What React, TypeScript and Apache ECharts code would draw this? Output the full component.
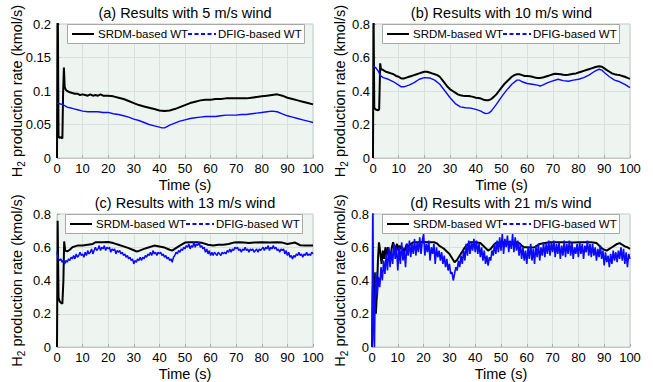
import React, { useEffect, useRef } from "react";
import * as echarts from "echarts";

const FONT = '"Liberation Sans", Arial, Helvetica, sans-serif';

const panelTitles = [
  "(a) Results with 5 m/s wind",
  "(b) Results with 10 m/s wind",
  "(c) Results with 13 m/s wind",
  "(d) Results with 21 m/s wind",
];
const seriesNames = ["SRDM-based WT", "DFIG-based WT"];
const xTicks = { min: 0, max: 100, interval: 10 };
const yMax = [0.2, 0.8, 0.8, 0.8];
const yInterval = [0.05, 0.2, 0.2, 0.2];

// (a) 5 m/s
const srdm5 = [
  [0, 0], [0.25, 0.26], [0.6, 0.032], [1.0, 0.03], [1.6, 0.031], [2.1, 0.029], [2.4, 0.1], [2.7, 0.135],
  [3.0, 0.106], [3.4, 0.102], [4, 0.1], [5, 0.098], [6, 0.097], [7, 0.096], [8, 0.096], [9, 0.094],
  [10, 0.095], [11, 0.094], [12, 0.093], [13, 0.095], [14, 0.093], [15, 0.094], [16, 0.093], [17, 0.095],
  [18, 0.093], [19, 0.093], [20, 0.093], [22, 0.092], [24, 0.09], [26, 0.088], [28, 0.085], [30, 0.082],
  [32, 0.079], [34, 0.077], [36, 0.075], [38, 0.073], [40, 0.071], [42, 0.07], [44, 0.071], [46, 0.073],
  [48, 0.076], [50, 0.079], [52, 0.082], [54, 0.084], [56, 0.086], [58, 0.087], [60, 0.087], [62, 0.088],
  [64, 0.088], [66, 0.089], [68, 0.089], [70, 0.089], [72, 0.089], [74, 0.089], [76, 0.09], [78, 0.091],
  [80, 0.092], [82, 0.093], [84, 0.094], [86, 0.095], [88, 0.093], [90, 0.09], [92, 0.088], [94, 0.086],
  [96, 0.084], [98, 0.082], [100, 0.08],
];
const dfig5 = [
  [0, 0.082], [1, 0.081], [2, 0.08], [3, 0.078], [4, 0.076], [5, 0.075], [6, 0.074], [7, 0.073], [8, 0.072],
  [9, 0.071], [10, 0.07], [12, 0.069], [14, 0.069], [16, 0.069], [18, 0.068], [20, 0.068], [22, 0.066],
  [24, 0.065], [26, 0.063], [28, 0.061], [30, 0.058], [32, 0.056], [34, 0.053], [36, 0.05], [38, 0.048],
  [40, 0.046], [41, 0.045], [42, 0.045], [43, 0.047], [44, 0.049], [46, 0.052], [48, 0.055], [50, 0.057],
  [52, 0.059], [54, 0.06], [56, 0.061], [58, 0.062], [60, 0.062], [62, 0.062], [64, 0.063], [66, 0.064],
  [68, 0.064], [70, 0.064], [72, 0.065], [74, 0.065], [76, 0.066], [78, 0.067], [80, 0.068], [82, 0.069],
  [84, 0.07], [86, 0.069], [88, 0.066], [90, 0.063], [92, 0.061], [94, 0.059], [96, 0.057], [98, 0.055],
  [100, 0.053],
];

// (b) 10 m/s
const srdm10 = [
  [0, 0], [0.2, 0.9], [0.5, 0.3], [1, 0.29], [2, 0.285], [2.4, 0.29], [2.8, 0.565], [3.1, 0.53], [4, 0.525],
  [5, 0.515], [6, 0.51], [7, 0.505], [8, 0.5], [9, 0.49], [10, 0.485], [11, 0.475], [12, 0.475], [13, 0.48],
  [14, 0.485], [15, 0.49], [16, 0.495], [17, 0.5], [18, 0.505], [19, 0.51], [20, 0.515], [21, 0.515],
  [22, 0.51], [23, 0.505], [24, 0.5], [25, 0.495], [26, 0.485], [27, 0.465], [28, 0.445], [29, 0.425],
  [30, 0.41], [31, 0.4], [32, 0.39], [33, 0.38], [34, 0.375], [35, 0.372], [36, 0.37], [37, 0.37],
  [38, 0.368], [39, 0.365], [40, 0.36], [41, 0.358], [42, 0.355], [43, 0.348], [44, 0.345], [45, 0.345],
  [46, 0.352], [47, 0.365], [48, 0.38], [49, 0.4], [50, 0.42], [51, 0.44], [52, 0.455], [53, 0.47],
  [54, 0.485], [55, 0.495], [56, 0.5], [57, 0.5], [58, 0.495], [59, 0.49], [60, 0.49], [61, 0.488],
  [62, 0.485], [63, 0.48], [64, 0.478], [65, 0.478], [66, 0.48], [67, 0.485], [68, 0.49], [69, 0.495],
  [70, 0.5], [71, 0.503], [72, 0.502], [73, 0.5], [74, 0.497], [75, 0.495], [76, 0.497], [77, 0.5],
  [78, 0.503], [79, 0.505], [80, 0.51], [81, 0.515], [82, 0.52], [83, 0.525], [84, 0.53], [85, 0.535],
  [86, 0.54], [87, 0.545], [88, 0.548], [89, 0.545], [90, 0.535], [91, 0.525], [92, 0.515], [93, 0.505],
  [94, 0.5], [95, 0.497], [96, 0.495], [97, 0.49], [98, 0.485], [99, 0.478], [100, 0.472],
];
const dfig10 = [
  [0, 0.55], [1, 0.54], [2, 0.52], [3, 0.49], [4, 0.48], [6, 0.47], [8, 0.455], [10, 0.435], [11, 0.425],
  [12, 0.425], [14, 0.435], [16, 0.45], [18, 0.47], [20, 0.48], [22, 0.478], [24, 0.465], [26, 0.44],
  [28, 0.4], [30, 0.36], [32, 0.325], [34, 0.305], [36, 0.3], [38, 0.298], [40, 0.29], [42, 0.28],
  [43, 0.27], [44, 0.265], [45, 0.268], [46, 0.28], [48, 0.32], [50, 0.365], [52, 0.405], [54, 0.44],
  [56, 0.465], [57, 0.465], [58, 0.455], [60, 0.445], [62, 0.44], [64, 0.435], [65, 0.43], [66, 0.435],
  [68, 0.45], [70, 0.46], [72, 0.47], [74, 0.462], [76, 0.458], [78, 0.465], [80, 0.47], [82, 0.48],
  [84, 0.495], [86, 0.515], [88, 0.53], [89, 0.525], [90, 0.51], [92, 0.485], [94, 0.465], [96, 0.455],
  [98, 0.44], [100, 0.42],
];

// (c) 13 m/s
const srdm13 = [
  [0, 0], [0.25, 0.76], [0.6, 0.3], [1, 0.275], [1.6, 0.265], [2.1, 0.26], [2.5, 0.4], [2.8, 0.635],
  [3.2, 0.58], [4, 0.575], [5, 0.585], [6, 0.6], [7, 0.605], [8, 0.61], [10, 0.61], [12, 0.615], [14, 0.62],
  [15, 0.63], [18, 0.63], [20, 0.632], [22, 0.625], [24, 0.615], [26, 0.605], [28, 0.595], [30, 0.582],
  [31, 0.575], [32, 0.578], [34, 0.59], [36, 0.6], [38, 0.61], [40, 0.605], [42, 0.598], [44, 0.585],
  [45, 0.58], [46, 0.59], [48, 0.61], [50, 0.628], [52, 0.63], [55, 0.63], [57, 0.625], [59, 0.615],
  [61, 0.61], [63, 0.615], [65, 0.615], [67, 0.62], [69, 0.628], [71, 0.63], [73, 0.628], [75, 0.625],
  [77, 0.628], [80, 0.63], [83, 0.628], [86, 0.63], [88, 0.628], [90, 0.62], [92, 0.625], [93, 0.628],
  [95, 0.612], [97, 0.61], [100, 0.61],
];
// sampled every 0.5 s from t = 0
const dfig13Step = 0.5;
const dfig13 = [
  0.57, 0.53, 0.52, 0.53, 0.51, 0.52, 0.50, 0.52, 0.51, 0.53,
  0.52, 0.54, 0.53, 0.55, 0.53, 0.56, 0.54, 0.55, 0.57, 0.55,
  0.56, 0.54, 0.57, 0.55, 0.58, 0.56, 0.57, 0.59, 0.56, 0.58,
  0.60, 0.58, 0.59, 0.61, 0.58, 0.60, 0.59, 0.61, 0.58, 0.60,
  0.59, 0.60, 0.57, 0.59, 0.58, 0.59, 0.56, 0.58, 0.57, 0.58,
  0.56, 0.57, 0.55, 0.56, 0.54, 0.55, 0.53, 0.54, 0.52, 0.53,
  0.50, 0.52, 0.51, 0.53, 0.52, 0.54, 0.52, 0.54, 0.53, 0.55,
  0.54, 0.56, 0.55, 0.57, 0.55, 0.58, 0.56, 0.57, 0.55, 0.57,
  0.56, 0.57, 0.55, 0.56, 0.54, 0.55, 0.53, 0.54, 0.52, 0.53,
  0.51, 0.54, 0.55, 0.57, 0.56, 0.58, 0.57, 0.59, 0.58, 0.60,
  0.59, 0.61, 0.60, 0.62, 0.59, 0.61, 0.60, 0.63, 0.60, 0.62,
  0.61, 0.63, 0.60, 0.61, 0.59, 0.60, 0.57, 0.59, 0.56, 0.58,
  0.55, 0.57, 0.55, 0.57, 0.56, 0.55, 0.57, 0.56, 0.55, 0.57,
  0.56, 0.57, 0.56, 0.58, 0.57, 0.59, 0.57, 0.59, 0.58, 0.60,
  0.59, 0.60, 0.58, 0.59, 0.57, 0.59, 0.58, 0.60, 0.58, 0.59,
  0.57, 0.59, 0.58, 0.59, 0.57, 0.58, 0.59, 0.57, 0.59, 0.58,
  0.59, 0.60, 0.58, 0.60, 0.59, 0.61, 0.58, 0.60, 0.59, 0.61,
  0.59, 0.60, 0.58, 0.59, 0.57, 0.59, 0.58, 0.59, 0.56, 0.58,
  0.55, 0.57, 0.54, 0.55, 0.53, 0.55, 0.54, 0.56, 0.55, 0.57,
  0.55, 0.56, 0.54, 0.56, 0.55, 0.57, 0.55, 0.56, 0.55, 0.57, 0.56,
];

// (d) 21 m/s
const srdm21 = [
  [0, 0], [0.3, 0.35], [0.7, 0.45], [1.1, 0.3], [1.5, 0.2], [1.9, 0.32], [2.3, 0.52], [2.7, 0.63],
  [3.2, 0.57], [3.7, 0.5], [4.2, 0.58], [4.7, 0.53], [5.2, 0.6], [5.7, 0.55], [6.2, 0.6], [6.7, 0.57],
  [7.2, 0.54], [7.7, 0.6], [8.2, 0.63], [8.7, 0.58], [9.2, 0.6], [9.7, 0.62], [10.2, 0.58], [10.7, 0.61],
  [11.2, 0.59], [11.7, 0.6], [12.5, 0.57], [13, 0.6], [13.5, 0.62], [14, 0.6], [15, 0.62], [16, 0.63],
  [18, 0.63], [20, 0.632], [22, 0.63], [24, 0.63], [25, 0.625], [26, 0.61], [27, 0.6], [28, 0.59],
  [29, 0.575], [30, 0.56], [31, 0.535], [32, 0.51], [33, 0.525], [34, 0.55], [35, 0.575], [36, 0.6],
  [37, 0.615], [38, 0.63], [40, 0.63], [42, 0.625], [43, 0.61], [44, 0.595], [45, 0.58], [46, 0.59],
  [47, 0.61], [48, 0.625], [50, 0.63], [52, 0.632], [54, 0.63], [56, 0.63], [57, 0.625], [58, 0.61],
  [59, 0.6], [60, 0.6], [62, 0.598], [63, 0.6], [64, 0.61], [65, 0.62], [67, 0.625], [69, 0.63],
  [72, 0.63], [75, 0.63], [78, 0.628], [80, 0.63], [83, 0.63], [85, 0.63], [87, 0.625], [88, 0.61],
  [89, 0.595], [90, 0.585], [91, 0.58], [92, 0.59], [93, 0.6], [94, 0.61], [95, 0.62], [96, 0.625],
  [97, 0.615], [98, 0.605], [99, 0.6], [100, 0.59],
];
const dfig21Head = [
  [0, 0], [0.2, 0.5], [0.35, 0.85], [0.55, 0.3], [0.75, 0.05], [0.95, 0], [1.15, 0.25],
];
// sampled every 0.5 s from t = 1.5
const dfig21Start = 1.5;
const dfig21Step = 0.5;
const dfig21 = [
  0.45, 0.30, 0.42, 0.36, 0.48, 0.40, 0.52,
  0.44, 0.56, 0.46, 0.60, 0.48, 0.58, 0.50, 0.62, 0.53, 0.60,
  0.46, 0.60, 0.50, 0.63, 0.52, 0.58, 0.48, 0.62, 0.55, 0.64,
  0.54, 0.62, 0.56, 0.65, 0.55, 0.63, 0.57, 0.66, 0.56, 0.64,
  0.68, 0.55, 0.62, 0.57, 0.64, 0.52, 0.60, 0.56, 0.62, 0.50,
  0.60, 0.54, 0.58, 0.52, 0.57, 0.50, 0.55, 0.48, 0.53, 0.46,
  0.50, 0.44, 0.45, 0.40, 0.44, 0.48, 0.46, 0.52, 0.48, 0.55,
  0.50, 0.58, 0.52, 0.62, 0.55, 0.64, 0.56, 0.63, 0.58, 0.65,
  0.57, 0.64, 0.56, 0.62, 0.54, 0.60, 0.52, 0.58, 0.50, 0.55,
  0.49, 0.54, 0.52, 0.58, 0.55, 0.62, 0.56, 0.64, 0.57, 0.66,
  0.58, 0.68, 0.56, 0.65, 0.60, 0.67, 0.57, 0.64, 0.59, 0.68,
  0.57, 0.66, 0.58, 0.64, 0.55, 0.62, 0.53, 0.60, 0.52, 0.58,
  0.50, 0.60, 0.53, 0.62, 0.52, 0.59, 0.50, 0.61, 0.54, 0.62,
  0.52, 0.60, 0.55, 0.63, 0.54, 0.62, 0.56, 0.64, 0.55, 0.63,
  0.57, 0.64, 0.54, 0.62, 0.56, 0.63, 0.53, 0.61, 0.55, 0.64,
  0.54, 0.62, 0.56, 0.64, 0.55, 0.63, 0.53, 0.60, 0.56, 0.62,
  0.54, 0.63, 0.56, 0.62, 0.53, 0.61, 0.57, 0.64, 0.55, 0.62,
  0.54, 0.62, 0.55, 0.60, 0.52, 0.59, 0.54, 0.61, 0.53, 0.58,
  0.49, 0.57, 0.51, 0.55, 0.48, 0.56, 0.50, 0.58, 0.52, 0.57,
  0.51, 0.58, 0.53, 0.60, 0.52, 0.59, 0.50, 0.57, 0.48, 0.56, 0.53,
];

const sampled = (t0: number, dt: number, vals: number[]) => vals.map((v, i) => [t0 + i * dt, v]);

const srdmData = [srdm5, srdm10, srdm13, srdm21];
const dfigData = [
  dfig5,
  dfig10,
  sampled(0, dfig13Step, dfig13),
  [...dfig21Head, ...sampled(dfig21Start, dfig21Step, dfig21)],
];

const grids = [
  { left: 57, top: 24, width: 256, height: 134 },
  { left: 373, top: 24, width: 257, height: 134 },
  { left: 57, top: 214, width: 256, height: 133 },
  { left: 372, top: 214, width: 258, height: 133 },
];
const yNameGap = [31, 24, 31, 23];
const yLabelMargin = [6, 3, 6, 3];
const dfigWidth = [1.4, 1.4, 1.5, 1.6];
const legendBoxes = [
  { x: 67, y: 24 },
  { x: 382, y: 24 },
  { x: 65, y: 214 },
  { x: 382, y: 214 },
];

const BLUE = "#0a0aff";

function legendGroup(x: number, y: number) {
  const font = `11.5px ${FONT}`;
  return {
    type: "group",
    x,
    y,
    z: 100,
    children: [
      { type: "rect", shape: { x: 0.5, y: 0.5, width: 237, height: 19 }, style: { fill: "#ffffff", stroke: "#a8a8a8", lineWidth: 1 }, z: 100 },
      { type: "line", shape: { x1: 5, y1: 10, x2: 27, y2: 10 }, style: { stroke: "#000", lineWidth: 2 }, z: 101 },
      { type: "text", x: 31, y: 10, style: { text: seriesNames[0], font, fill: "#000", verticalAlign: "middle", align: "left" }, z: 101 },
      { type: "line", shape: { x1: 121, y1: 10, x2: 149, y2: 10 }, style: { stroke: BLUE, lineWidth: 1.8, lineDash: [4, 2.5] }, z: 101 },
      { type: "text", x: 151, y: 10, style: { text: seriesNames[1], font, fill: "#000", verticalAlign: "middle", align: "left" }, z: 101 },
    ],
  };
}

export default function App() {
  const ref = useRef<HTMLDivElement>(null);
  useEffect(() => {
    if (!ref.current) return;
    const chart = echarts.init(ref.current, undefined, { renderer: "svg" });
    const option: any = {
      animation: false,
      backgroundColor: "#ffffff",
      textStyle: { fontFamily: FONT },
      grid: grids.map((g) => ({
        ...g,
        show: true,
        backgroundColor: "#eef5f1",
        borderColor: "#c4c8c5",
        borderWidth: 1,
        containLabel: false,
      })),
      xAxis: grids.map((_, i) => ({
        type: "value",
        gridIndex: i,
        min: xTicks.min,
        max: xTicks.max,
        interval: xTicks.interval,
        name: "Time (s)",
        nameLocation: "middle",
        nameGap: 19,
        nameMoveOverlap: false,
        nameTextStyle: { color: "#000", fontSize: 14.5, fontFamily: FONT },
        axisLine: { show: true, lineStyle: { color: "#c4c8c5" } },
        axisTick: { show: true, inside: true, length: 3, lineStyle: { color: "#aaa" } },
        axisLabel: { color: "#000", fontSize: 13, fontFamily: FONT, margin: 4, showMaxLabel: true, showMinLabel: true },
        splitLine: { show: true, lineStyle: { color: "#d9dfdb", width: 1 } },
      })),
      yAxis: grids.map((_, i) => ({
        type: "value",
        gridIndex: i,
        min: 0,
        max: yMax[i],
        interval: yInterval[i],
        name: "{n|H}{s|2}{n| production rate (kmol/s)}",
        nameLocation: "middle",
        nameRotate: 90,
        nameGap: yNameGap[i],
        nameMoveOverlap: false,
        nameTextStyle: {
          color: "#000",
          fontFamily: FONT,
          rich: {
            n: { fontSize: 14.5, fontFamily: FONT, color: "#000" },
            s: { fontSize: 10, fontFamily: FONT, color: "#000", padding: [9, 0, 0, 0] },
          },
        },
        axisLine: { show: true, lineStyle: { color: "#c4c8c5" } },
        axisTick: { show: true, inside: true, length: 3, lineStyle: { color: "#aaa" } },
        axisLabel: { color: "#000", fontSize: 13, fontFamily: FONT, margin: yLabelMargin[i] },
        splitLine: { show: true, lineStyle: { color: "#d9dfdb", width: 1 } },
      })),
      series: [
        ...srdmData.map((d, i) => ({
          type: "line",
          name: seriesNames[0],
          xAxisIndex: i,
          yAxisIndex: i,
          data: d,
          symbol: "none",
          showSymbol: false,
          clip: true,
          lineStyle: { color: "#000", width: 2 },
          z: 2,
        })),
        ...dfigData.map((d, i) => ({
          type: "line",
          name: seriesNames[1],
          xAxisIndex: i,
          yAxisIndex: i,
          data: d,
          symbol: "none",
          showSymbol: false,
          clip: true,
          lineStyle: { color: BLUE, width: dfigWidth[i] },
          z: 3,
        })),
      ],
      graphic: [
        ...grids.map((g, i) => ({
          type: "text",
          x: g.left + g.width / 2,
          y: g.top - 11,
          z: 100,
          style: { text: panelTitles[i], font: `14.5px ${FONT}`, fill: "#000", align: "center", verticalAlign: "middle" },
        })),
        ...legendBoxes.map((b) => legendGroup(b.x, b.y)),
      ],
    };
    chart.setOption(option);
    return () => chart.dispose();
  }, []);
  return <div ref={ref} style={{ position: "fixed", left: 0, top: 0, width: 653, height: 382 }} />;
}
